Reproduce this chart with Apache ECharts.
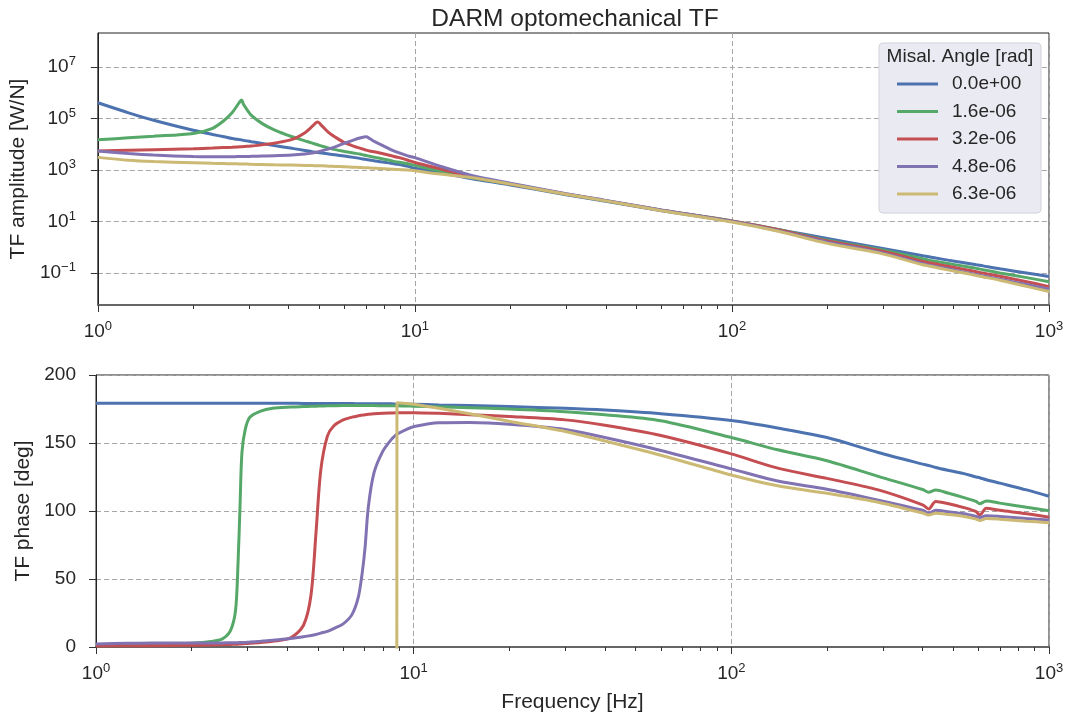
<!DOCTYPE html>
<html>
<head>
<meta charset="utf-8">
<title>DARM optomechanical TF</title>
<script src="https://cdn.jsdelivr.net/npm/echarts@6.0.0/dist/echarts.min.js"></script>
<style>
  html, body { margin: 0; padding: 0; background: #fff; }
  #chart { width: 1067px; height: 720px; }
</style>
</head>
<body>
<div id="chart"></div>
<script>
// ================* DATA *
const freq = [1, 1.25, 1.5, 2, 2.3, 2.5, 2.65, 2.75, 2.8, 2.84,
    2.88, 2.95, 3.05, 3.3, 3.6, 4.1, 4.5, 4.75, 4.93, 5.1,
    5.35, 5.6, 6, 6.4, 6.7, 6.9, 7.03, 7.2, 7.5, 8,
    8.5, 8.84, 8.86, 9.5, 10, 12, 15, 20, 30, 40,
    60, 100, 140, 200, 290, 400, 418, 440, 480, 540,
    590, 605, 635, 700, 850, 1000];

const angleNames = ['0.0e+00', '1.6e-06', '3.2e-06', '4.8e-06', '6.3e-06'];
const angleColors = ['#4C72B0', '#55A868', '#C44E52', '#8172B2', '#CCB974'];

// TF amplitude [W/N]
const amp0 = [4.07e5, 1.66e5, 8.51e4, 3.47e4, 2.40e4, 1.95e4, 1.66e4, 1.55e4, 1.51e4, 1.48e4,
    1.41e4, 1.35e4, 1.26e4, 1.07e4, 8910, 6920, 5750, 5130, 4790, 4570,
    4170, 3890, 3470, 3090, 2820, 2630, 2570, 2450, 2240, 2000,
    1780, 1660, 1660, 1380, 1170, 794, 468, 263, 110, 60.3,
    26.3, 10.0, 4.79, 2.19, 0.955, 0.468, 0.427, 0.380, 0.316, 0.251,
    0.209, 0.200, 0.178, 0.145, 0.100, 0.0724];
const amp1 = [1.48e4, 1.78e4, 2.04e4, 2.63e4, 4.17e4, 8.32e4, 1.66e5, 3.16e5, 4.37e5, 5.25e5,
    3.55e5, 2.24e5, 1.32e5, 6.31e4, 3.63e4, 1.95e4, 1.35e4, 1.10e4, 9550, 8320,
    7080, 6170, 5250, 4570, 4170, 3800, 3630, 3390, 3090, 2630,
    2240, 2040, 2040, 1740, 1510, 912, 513, 282, 115, 63.1,
    27.5, 10.5, 4.90, 1.86, 0.832, 0.355, 0.316, 0.282, 0.234, 0.182,
    0.151, 0.141, 0.126, 0.100, 0.0661, 0.0457];
const amp2 = [5500, 5890, 6170, 6610, 7080, 7410, 7590, 7760, 7940, 7940,
    8130, 8320, 8510, 9550, 1.10e4, 1.55e4, 2.82e4, 5.01e4, 7.24e4, 5.01e4,
    2.82e4, 1.91e4, 1.15e4, 8510, 7080, 6310, 5890, 5500, 5010, 4170,
    3470, 3090, 3090, 2400, 1950, 1120, 550, 288, 117, 64.6,
    27.5, 10.5, 4.79, 1.74, 0.759, 0.282, 0.251, 0.224, 0.182, 0.138,
    0.112, 0.105, 0.0933, 0.0741, 0.0457, 0.0295];
const amp3 = [5500, 4370, 3800, 3310, 3240, 3240, 3240, 3310, 3310, 3310,
    3310, 3310, 3390, 3470, 3550, 3800, 4170, 4570, 5010, 5620,
    6610, 7940, 1.10e4, 1.45e4, 1.74e4, 1.91e4, 1.95e4, 1.66e4, 1.23e4, 8320,
    5750, 4790, 4680, 3550, 3020, 1410, 631, 309, 120, 66.1,
    28.2, 10.2, 4.37, 1.58, 0.661, 0.229, 0.200, 0.178, 0.145, 0.107,
    0.0871, 0.0813, 0.0724, 0.0575, 0.0355, 0.0234];
const amp4 = [3090, 2400, 2140, 1910, 1820, 1780, 1740, 1740, 1700, 1700,
    1700, 1700, 1660, 1620, 1580, 1550, 1510, 1480, 1450, 1450,
    1410, 1380, 1350, 1290, 1260, 1230, 1230, 1200, 1170, 1120,
    1070, 1050, 1050, 1000, 933, 692, 513, 282, 115, 63.1,
    26.3, 9.55, 4.17, 1.41, 0.603, 0.209, 0.186, 0.162, 0.132, 0.100,
    0.0794, 0.0741, 0.0661, 0.0525, 0.0302, 0.0191];

// TF phase [deg]
const phase0 = [179.3, 179.3, 179.3, 179.3, 179.3, 179.3, 179.3, 179.3, 179.3, 179.3,
    179.3, 179.3, 179.3, 179.2, 179.2, 179.2, 179.1, 179.1, 179.1, 179.1,
    179.1, 179.0, 179.0, 179.0, 178.9, 178.9, 178.9, 178.9, 178.9, 178.8,
    178.8, 178.7, 178.7, 178.6, 178.5, 178.0, 177.5, 176.8, 175.5, 174.2,
    171.5, 166.5, 161, 154, 143, 134.5, 133.5, 132, 130, 127.5,
    125, 124.5, 123, 120.5, 115.5, 110.8];
const phase1 = [1.5, 1.8, 2.0, 2.8, 4.0, 6.0, 12, 27, 62, 103,
    143, 160, 169, 173.5, 175.5, 176.4, 176.8, 177, 177.1, 177.2,
    177.3, 177.4, 177.5, 177.5, 177.5, 177.5, 177.5, 177.5, 177.5, 177.4,
    177.4, 177.3, 177.3, 177.2, 177.1, 176.6, 176, 175, 173, 170.8,
    166.3, 154, 145, 137, 125.5, 115.8, 113.8, 115.4, 113.2, 109.8,
    107, 105.4, 107.4, 105.8, 102.7, 100.2];
const phase2 = [0.8, 0.9, 1.0, 1.2, 1.5, 1.7, 1.9, 2.0, 2.1, 2.2,
    2.3, 2.5, 2.7, 3.3, 4.2, 6.8, 16, 38, 85, 130,
    155, 162.5, 167, 169, 170, 170.5, 170.8, 171.1, 171.5, 171.9,
    172.1, 172.2, 172.2, 172.3, 172.3, 171.8, 170.8, 169.5, 167, 163,
    155.5, 142, 131.5, 124, 115.5, 104.5, 101.5, 107, 105.5, 102.5,
    99.5, 97, 102, 100.5, 98, 95.5];
const phase3 = [2.2, 2.7, 3.0, 2.9, 2.9, 3.0, 3.1, 3.2, 3.2, 3.3,
    3.3, 3.4, 3.6, 4.2, 5.0, 6.2, 7.5, 8.5, 9.2, 10.2,
    11.5, 13.5, 17, 24, 37, 56, 73, 103, 128, 144,
    152.5, 156.3, 156.5, 160, 162, 164.8, 165, 163.8, 160, 154,
    144.5, 131, 122, 116, 108, 100.5, 98.5, 100.5, 99.5, 98,
    96, 95.2, 96.5, 96, 94.5, 93.4];
const phase4 = [-180, -180, -180, -180, -180, -180, -180, -180, -180, -180,
    -180, -180, -180, -180, -180, -180, -180, -180, -180, -180,
    -180, -180, -180, -180, -180, -180, -180, -180, -180, -180,
    -180, -180, 179.6, 179, 178.5, 175.5, 171.5, 166, 158.5, 151.5,
    141, 126.5, 118.5, 113, 106.5, 98.5, 97, 98.3, 97.5, 96,
    94, 93, 94.5, 94, 92.5, 91.4];

const ampSets = [amp0, amp1, amp2, amp3, amp4];
const phaseSets = [phase0, phase1, phase2, phase3, phase4];

// axis ticks
const decadeTicks = [1, 10, 100, 1000];
const minorFreqTicks = [2, 3, 4, 5, 6, 7, 8, 9, 20, 30, 40, 50, 60, 70, 80, 90,
    200, 300, 400, 500, 600, 700, 800, 900];
const ampTicks = [0.1, 10, 1e3, 1e5, 1e7];
const ampMin = 5.71e-3;
const ampMax = 2.09e8;

// ================* CHART *
const FONT = '"Liberation Sans", Arial, sans-serif';
const TXT = '#262626';

function pairs(vals) {
    return freq.map(function (f, i) {
        return [f, vals[i]];
    });
}

function powLabel(v) {
    let e = Math.round(Math.log10(v));
    return '{b|10}{s|' + (e < 0 ? '\u2212' + (-e) : e) + '}';
}

const powRich = {
    b: { fontSize: 19, lineHeight: 24, color: TXT, fontFamily: FONT },
    s: { fontSize: 13, lineHeight: 13, color: TXT, fontFamily: FONT, verticalAlign: 'top' }
};

const dashGrid = { type: [5, 3], color: '#a6a6a6', width: 1 };

function freqAxis(gridIndex) {
    return {
        type: 'log', logBase: 10, gridIndex: gridIndex,
        min: 1, max: 1000, position: 'bottom',
        name: gridIndex == 1 ? 'Frequency [Hz]' : '',
        nameLocation: 'middle', nameGap: 45,
        nameTextStyle: { fontSize: 21, color: TXT, fontFamily: FONT },
        axisLine: { show: true, onZero: false, lineStyle: { color: '#666', width: 2 } },
        axisTick: { show: true, length: 7, customValues: decadeTicks, lineStyle: { color: '#333', width: 1 } },
        axisLabel: { customValues: decadeTicks, formatter: powLabel, margin: 15, rich: powRich },
        splitLine: { show: true, lineStyle: dashGrid }
    };
}

// second axis only to carry the minor ticks at 2..9 of each decade
function minorAxis(gridIndex) {
    return {
        type: 'log', logBase: 10, gridIndex: gridIndex,
        min: 1, max: 1000, position: 'bottom',
        axisLine: { show: true, onZero: false, lineStyle: { color: 'rgba(0,0,0,0)', width: 1 } },
        axisTick: { show: true, length: 4, customValues: minorFreqTicks, lineStyle: { color: '#333', width: 1 } },
        axisLabel: { show: false },
        splitLine: { show: false }
    };
}

const series = [];
angleNames.forEach(function (name, i) {
    series.push({
        name: name, type: 'line', xAxisIndex: 0, yAxisIndex: 0,
        showSymbol: false, symbol: 'none', smooth: 0.3,
        lineStyle: { width: 3, color: angleColors[i] },
        itemStyle: { color: angleColors[i] },
        data: pairs(ampSets[i])
    });
    series.push({
        name: name, type: 'line', xAxisIndex: 1, yAxisIndex: 1,
        showSymbol: false, symbol: 'none', smooth: 0.3,
        lineStyle: { width: 3, color: angleColors[i] },
        itemStyle: { color: angleColors[i] },
        data: pairs(phaseSets[i])
    });
});

const chart = echarts.init(document.getElementById('chart'), null, { renderer: 'canvas' });
const option = {
    animation: false,
    backgroundColor: '#fff',
    textStyle: { fontFamily: FONT, color: TXT },
    title: {
        text: 'DARM optomechanical TF',
        left: 570, top: 2, textAlign: 'center',
        textStyle: { fontSize: 24.5, fontWeight: 'normal', color: TXT, fontFamily: FONT }
    },
    grid: [
        { left: 96, right: 18, top: 33, height: 272, show: true, borderColor: '#222', borderWidth: 1, backgroundColor: '#fff' },
        { left: 96, right: 18, top: 375, height: 272, show: true, borderColor: '#222', borderWidth: 1, backgroundColor: '#fff' }
    ],
    xAxis: [freqAxis(0), freqAxis(1), minorAxis(0), minorAxis(1)],
    yAxis: [{
        type: 'log', logBase: 10, gridIndex: 0,
        min: ampMin, max: ampMax,
        name: 'TF amplitude [W/N]', nameLocation: 'middle', nameGap: 61,
        nameTextStyle: { fontSize: 21, color: TXT, fontFamily: FONT },
        axisLine: { show: true, onZero: false, lineStyle: { color: '#222', width: 1 } },
        axisTick: { show: true, length: 7, customValues: ampTicks, lineStyle: { color: '#333' } },
        axisLabel: { customValues: ampTicks, formatter: powLabel, margin: 22, rich: powRich },
        splitLine: { show: true, lineStyle: dashGrid }
    }, {
        type: 'value', gridIndex: 1,
        min: 0, max: 200, interval: 50,
        name: 'TF phase [deg]', nameLocation: 'middle', nameGap: 56,
        nameTextStyle: { fontSize: 21, color: TXT, fontFamily: FONT },
        axisLine: { show: true, onZero: false, lineStyle: { color: '#222', width: 1 } },
        axisTick: { show: true, length: 7, lineStyle: { color: '#333' } },
        axisLabel: { fontSize: 19, color: TXT, margin: 20, fontFamily: FONT },
        splitLine: { show: true, lineStyle: dashGrid }
    }],
    legend: {
        data: angleNames,
        orient: 'vertical',
        left: 897, top: 74.5,
        padding: 0,
        icon: 'rect',
        itemWidth: 41, itemHeight: 3, itemGap: 8.5,
        selectedMode: false,
        textStyle: { fontSize: 19, lineHeight: 19, color: TXT, fontFamily: FONT, padding: [0, 0, 0, 9] },
        z: 6
    },
    graphic: [{
        type: 'rect', z: 5,
        shape: { x: 879, y: 43, width: 162, height: 170, r: 4 },
        style: { fill: '#EAEAF2', stroke: '#D2D2DA', lineWidth: 1 }
    }, {
        type: 'text', z: 7, x: 960, y: 57,
        style: {
            text: 'Misal. Angle [rad]', fontSize: 19, fontFamily: FONT, fill: TXT,
            align: 'center', verticalAlign: 'middle'
        }
    }],
    series: series
};
chart.setOption(option);
</script>
</body>
</html>
